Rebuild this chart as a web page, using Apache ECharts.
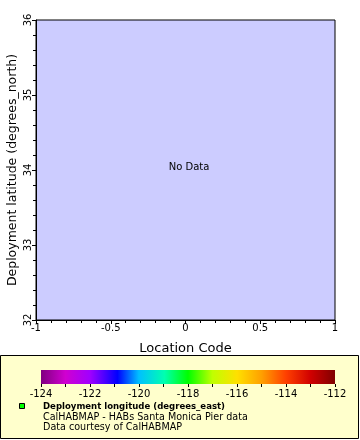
<!DOCTYPE html>
<html>
<head>
<meta charset="utf-8">
<script src="https://cdn.jsdelivr.net/npm/echarts@6/dist/echarts.min.js"></script>
<style>html,body{margin:0;padding:0;background:#fff;}#c{width:360px;height:440px;}</style>
</head>
<body>
<div id="c"></div>
<script>
// ---- data ----
var xRange = [-1, 1];            // Location Code
var yRange = [32, 36];           // Deployment latitude
var plotPoints = [];             // no data
var colorRange = [-124, -112];   // Deployment longitude colour scale
var paletteStops = [0, 0.083, 0.167, 0.26, 0.333, 0.42, 0.5, 0.583, 0.667, 0.75, 0.833, 0.917, 1];
var paletteColors = ['#800080', '#d000d0', '#a000ff', '#0000ff', '#00c0ff', '#00ffb0', '#00ff00', '#c0ff00', '#ffe000', '#ffa000', '#ff4000', '#d00000', '#800000'];
var xTitle = 'Location Code';
var yTitle = 'Deployment latitude (degrees_north)';
var legendTitle = 'Deployment longitude (degrees_east)';
var legendLines = ['CalHABMAP - HABs Santa Monica Pier data', 'Data courtesy of CalHABMAP'];
var noDataText = 'No Data';

var FONT = 'DejaVu Sans';
var chart = echarts.init(document.getElementById('c'), null, {renderer: 'canvas'});
var stops = paletteStops.map(function (s, i) { return {offset: s, color: paletteColors[i]}; });

var option = {
  animation: false,
  backgroundColor: '#fff',
  textStyle: {fontFamily: FONT},
  grid: [
    {left: 36, top: 20, width: 299, height: 300, show: true, backgroundColor: '#ccccff', borderColor: '#000', borderWidth: 1,
     containLabel: false, outerBoundsMode: 'none'},
    {left: 41, top: 370, width: 294, height: 14, show: true, borderWidth: 0, outerBoundsMode: 'none',
     backgroundColor: {type: 'linear', x: 0, y: 0, x2: 1, y2: 0, colorStops: stops}}
  ],
  xAxis: [
    {gridIndex: 0, type: 'value', min: xRange[0], max: xRange[1], interval: 0.5,
     name: xTitle, nameLocation: 'middle', nameGap: 22, nameMoveOverlap: false,
     nameTextStyle: {fontFamily: FONT, fontSize: 13, color: '#000'},
     axisLine: {show: true, onZero: false, lineStyle: {color: '#000', width: 1}},
     axisTick: {show: true, inside: false, length: 4, lineStyle: {color: '#000'}},
     minorTick: {show: true, splitNumber: 5, length: 3, lineStyle: {color: '#000'}},
     splitLine: {show: false}, minorSplitLine: {show: false},
     axisLabel: {fontFamily: FONT, fontSize: 10, color: '#000', margin: 3}},
    {gridIndex: 1, type: 'value', min: colorRange[0], max: colorRange[1], interval: 2,
     axisLine: {show: false},
     axisTick: {show: true, inside: false, length: 3, lineStyle: {color: '#000'}},
     minorTick: {show: true, splitNumber: 2, length: 3, lineStyle: {color: '#000'}},
     splitLine: {show: false}, minorSplitLine: {show: false},
     axisLabel: {fontFamily: FONT, fontSize: 10, color: '#000', margin: 5}}
  ],
  yAxis: [
    {gridIndex: 0, type: 'value', min: yRange[0], max: yRange[1], interval: 1,
     name: yTitle, nameLocation: 'middle', nameGap: 17, nameRotate: 90, nameMoveOverlap: false,
     nameTextStyle: {fontFamily: FONT, fontSize: 12.5, color: '#000'},
     axisLine: {show: true, onZero: false, lineStyle: {color: '#000', width: 1}},
     axisTick: {show: true, inside: false, length: 4, lineStyle: {color: '#000'}},
     minorTick: {show: true, splitNumber: 5, length: 3, lineStyle: {color: '#000'}},
     splitLine: {show: false}, minorSplitLine: {show: false},
     axisLabel: {fontFamily: FONT, fontSize: 10, color: '#000', rotate: 90, margin: 3}},
    {gridIndex: 1, type: 'value', show: false, min: 0, max: 1}
  ],
  series: [
    {type: 'scatter', xAxisIndex: 0, yAxisIndex: 0, data: plotPoints, symbolSize: 5}
  ],
  graphic: [
    {type: 'rect', z: -1, shape: {x: 0.5, y: 355.5, width: 358, height: 83},
     style: {fill: '#ffffcc', stroke: '#000', lineWidth: 1}},
    {type: 'text', x: 189, y: 167, style: {text: noDataText, font: '10px "DejaVu Sans"', fill: '#000', align: 'center', verticalAlign: 'middle'}},
    {type: 'rect', shape: {x: 19.5, y: 403.5, width: 5, height: 5}, style: {fill: '#00ff00', stroke: '#000', lineWidth: 1}},
    {type: 'text', x: 43, y: 407, style: {text: legendTitle, font: 'bold 9.5px "DejaVu Sans Condensed", "DejaVu Sans"', fill: '#000', verticalAlign: 'middle'}},
    {type: 'text', x: 43, y: 417, style: {text: legendLines[0], font: '9.6px "DejaVu Sans"', fill: '#000', verticalAlign: 'middle'}},
    {type: 'text', x: 43, y: 427, style: {text: legendLines[1], font: '9.6px "DejaVu Sans"', fill: '#000', verticalAlign: 'middle'}}
  ]
};
chart.setOption(option);
</script>
</body>
</html>
